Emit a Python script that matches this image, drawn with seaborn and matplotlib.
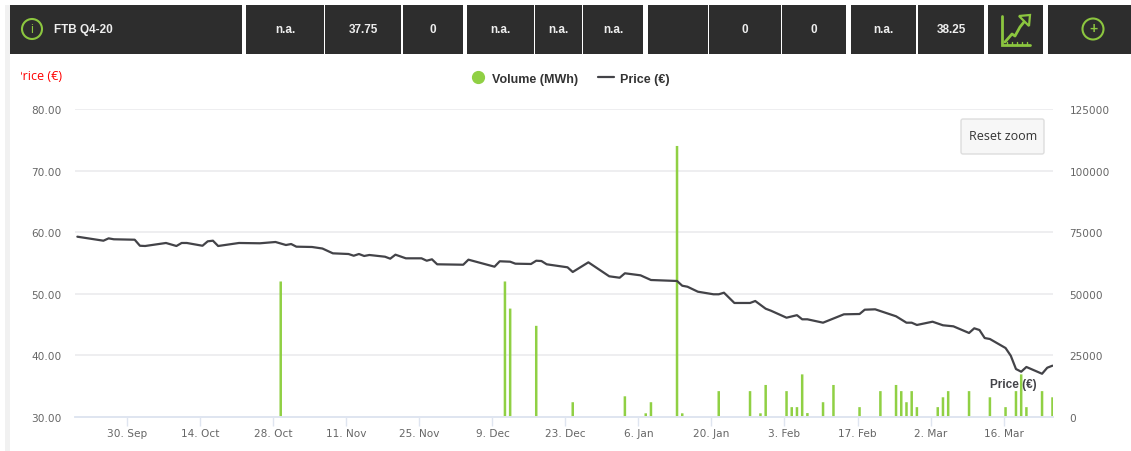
import matplotlib
matplotlib.use("Agg")
import matplotlib.dates as mdates
import matplotlib.pyplot as plt
import pandas as pd
import seaborn as sns
from matplotlib.lines import Line2D
from matplotlib.patches import Circle, FancyBboxPatch, Polygon, Rectangle

sns.set_style("white")
plt.rcParams["font.family"] = ["DejaVu Sans"]

price_dates = [
    "2019-09-20", "2019-09-25", "2019-09-26", "2019-09-27", "2019-10-01", "2019-10-02", "2019-10-03",
    "2019-10-07", "2019-10-09", "2019-10-10", "2019-10-11", "2019-10-14", "2019-10-15", "2019-10-16",
    "2019-10-17", "2019-10-21", "2019-10-25", "2019-10-28", "2019-10-30", "2019-10-31", "2019-11-01",
    "2019-11-04", "2019-11-06", "2019-11-08", "2019-11-11", "2019-11-12", "2019-11-13", "2019-11-14",
    "2019-11-15", "2019-11-18", "2019-11-19", "2019-11-20", "2019-11-22", "2019-11-25", "2019-11-26",
    "2019-11-27", "2019-11-28", "2019-12-03", "2019-12-04", "2019-12-09", "2019-12-10", "2019-12-12",
    "2019-12-13", "2019-12-16", "2019-12-17", "2019-12-18", "2019-12-19", "2019-12-23", "2019-12-24",
    "2019-12-27", "2019-12-31", "2020-01-02", "2020-01-03", "2020-01-06", "2020-01-08", "2020-01-13",
    "2020-01-14", "2020-01-15", "2020-01-17", "2020-01-20", "2020-01-21", "2020-01-22", "2020-01-24",
    "2020-01-27", "2020-01-28", "2020-01-30", "2020-01-31", "2020-02-03", "2020-02-05", "2020-02-06",
    "2020-02-07", "2020-02-10", "2020-02-14", "2020-02-17", "2020-02-18", "2020-02-20", "2020-02-24",
    "2020-02-26", "2020-02-27", "2020-02-28", "2020-03-02", "2020-03-04", "2020-03-06", "2020-03-09",
    "2020-03-10", "2020-03-11", "2020-03-12", "2020-03-13", "2020-03-16", "2020-03-17", "2020-03-18",
    "2020-03-19", "2020-03-20", "2020-03-23", "2020-03-24", "2020-03-25",
]
price_values = [
    59.27, 58.62, 59.00, 58.85, 58.78, 57.80, 57.76,
    58.25, 57.76, 58.25, 58.25, 57.80, 58.52, 58.62,
    57.76, 58.25, 58.20, 58.41, 57.92, 58.08, 57.65,
    57.60, 57.35, 56.57, 56.46, 56.18, 56.46, 56.14,
    56.30, 56.02, 55.70, 56.35, 55.76, 55.76, 55.37,
    55.60, 54.79, 54.72, 55.54, 54.40, 55.28, 55.21,
    54.89, 54.84, 55.37, 55.32, 54.79, 54.30, 53.54,
    55.11, 52.84, 52.61, 53.33, 53.00, 52.24, 52.08,
    51.31, 51.15, 50.34, 49.92, 49.92, 50.18, 48.51,
    48.51, 48.83, 47.58, 47.26, 46.12, 46.53, 45.86,
    45.86, 45.31, 46.67, 46.72, 47.42, 47.48, 46.35,
    45.31, 45.31, 44.94, 45.47, 44.89, 44.72, 43.64,
    44.40, 44.12, 42.82, 42.66, 41.20, 39.95, 37.79,
    37.35, 38.12, 37.02, 38.00, 38.33,
]

volume_dates = [
    "2019-10-29", "2019-12-11", "2019-12-12", "2019-12-17", "2019-12-24", "2020-01-03", "2020-01-07",
    "2020-01-08", "2020-01-13", "2020-01-14", "2020-01-21", "2020-01-27", "2020-01-29", "2020-01-30",
    "2020-02-03", "2020-02-04", "2020-02-05", "2020-02-06", "2020-02-07", "2020-02-10", "2020-02-12",
    "2020-02-17", "2020-02-21", "2020-02-24", "2020-02-25", "2020-02-26", "2020-02-27", "2020-02-28",
    "2020-03-03", "2020-03-04", "2020-03-05", "2020-03-09", "2020-03-13", "2020-03-16", "2020-03-18",
    "2020-03-19", "2020-03-20", "2020-03-23", "2020-03-25",
]
volume_values = [
    55000, 55000, 44000, 37000, 6000, 8400, 1500,
    6000, 110000, 1500, 10500, 10500, 1500, 13000,
    10500, 4000, 4000, 17300, 1600, 6000, 13000,
    4000, 10500, 13000, 10500, 6000, 10500, 4000,
    4000, 8000, 10500, 10500, 8000, 4000, 10500,
    17300, 4000, 10500, 8000,
]

tick_dates = ["2019-09-30", "2019-10-14", "2019-10-28", "2019-11-11", "2019-11-25", "2019-12-09", "2019-12-23",
              "2020-01-06", "2020-01-20", "2020-02-03", "2020-02-17", "2020-03-02", "2020-03-16"]
tick_labels = ["30. Sep", "14. Oct", "28. Oct", "11. Nov", "25. Nov", "9. Dec", "23. Dec",
               "6. Jan", "20. Jan", "3. Feb", "17. Feb", "2. Mar", "16. Mar"]
price_ticks = [30, 40, 50, 60, 70, 80]
volume_ticks = [0, 25000, 50000, 75000, 100000, 125000]

header_title = "FTB Q4-20"
header_cells = ["n.a.", "37.75", "0", "n.a.", "n.a.", "n.a.", "", "0", "0", "n.a.", "38.25"]

GREEN = "#8cc63f"
BAR_GREEN = "#90d044"
DARK = "#2d2d2d"
LINE = "#434348"
AXIS = "#dfe5f0"
W, H = 1131, 452


def to_num(dates):
    return mdates.date2num(pd.to_datetime(dates))


fig = plt.figure(figsize=(W / 100, H / 100), dpi=100, facecolor="white")
ax = fig.add_axes([75 / W, 1 - 418 / H, (1053 - 75) / W, (418 - 110) / H])
ax_vol = ax.twinx()
ax.set_zorder(2)
ax.patch.set_visible(False)

sns.barplot(x=to_num(volume_dates), y=volume_values, native_scale=True, width=0.48, color=BAR_GREEN,
            saturation=1, errorbar=None, ax=ax_vol, zorder=2)
for bar in ax_vol.patches:
    bar.set_snap(False)
    bar.set_linewidth(0)
sns.lineplot(x=to_num(price_dates), y=price_values, color=LINE, linewidth=1.6, errorbar=None, ax=ax)

day0 = to_num(["2019-09-30"])[0]
ax.set_xlim(day0 - 10.45, day0 + 177.1)
ax_vol.set_xlim(day0 - 10.45, day0 + 177.1)
ax.set_ylim(30, 80)
ax_vol.set_ylim(0, 125000)

# ticks sit a few hours left of the daily points in the original
ax.set_xticks(to_num(tick_dates) - 0.39, tick_labels)
ax.set_yticks(price_ticks, [f"{v:.2f}" for v in price_ticks])
ax_vol.set_yticks(volume_ticks, [str(v) for v in volume_ticks])
ax_vol.grid(axis="y", color="#ebebee", linewidth=1.2, zorder=0)
ax_vol.set_axisbelow(True)
ax.set_xlabel("")
ax_vol.set_xlabel("")
ax.tick_params(axis="x", bottom=True, length=6.5, width=1, color=AXIS, labelsize=7.6, labelcolor="#666666", pad=1.5)
ax.tick_params(axis="y", length=0, labelsize=7.6, labelcolor="#666666", pad=9.5)
ax_vol.tick_params(axis="y", length=0, labelsize=7.6, labelcolor="#666666", pad=12)
for a in (ax, ax_vol):
    for side, spine in a.spines.items():
        spine.set_visible(side == "bottom")
        spine.set_color(AXIS)
        spine.set_linewidth(1.2)

# page chrome in pixel coordinates
ui = fig.add_axes([0, 0, 1, 1], zorder=3)
ui.set_xlim(0, W)
ui.set_ylim(H, 0)
ui.axis("off")

ui.add_patch(Rectangle((5, 6), 5, H - 6, facecolor="#f1f1f1", edgecolor="none"))

cells = [(10, 242), (246, 324), (325, 401), (403, 463), (467, 534), (535, 582), (583, 643),
         (648, 708), (709, 781), (782, 846), (851, 916), (918, 984), (988, 1043), (1048, 1131)]
for x0, x1 in cells:
    ui.add_patch(Rectangle((x0, 6), x1 - x0, 48.5, facecolor=DARK, edgecolor="none"))

header_font = dict(family="Liberation Sans", weight="bold", size=8.5, color="#eeeeee", va="center")
ui.text(54, 30, header_title, **header_font)
for (x0, x1), txt in zip(cells[1:12], header_cells):
    ui.text((x0 + x1) / 2, 30, txt, ha="center", **header_font)

ui.add_patch(Circle((32, 30), 10, fill=False, edgecolor=GREEN, linewidth=1.5))
ui.text(32, 30, "i", color=GREEN, ha="center", va="center", size=9, family="Liberation Sans")
ui.add_patch(Circle((1093, 30), 10.5, fill=False, edgecolor=GREEN, linewidth=1.5))
ui.text(1093, 29.5, "+", color=GREEN, ha="center", va="center", size=10, weight="bold", family="Liberation Sans")

ui.plot([1002, 1002, 1030], [17, 46, 46], color=GREEN, linewidth=2, solid_joinstyle="miter")
ui.plot([1005, 1012, 1015, 1020, 1024], [43, 35, 37, 28, 23], color=GREEN, linewidth=2)
ui.add_patch(Polygon([[1030, 16], [1019, 17], [1029, 27]], closed=True, fill=False, edgecolor=GREEN, linewidth=1.6))
for tx in [1007, 1012, 1017, 1022, 1027]:
    ui.plot([tx, tx], [42.5, 46], color=GREEN, linewidth=1)

# the first letter is cut off by the chart container in the original
axis_title = ui.text(61.7, 77, "Price (€)", color="#ff0000", ha="right", va="center", size=9,
                     family="Open Sans", clip_on=True)
axis_title.set_clip_path(Rectangle((20.5, 60), 60, 30, transform=ui.transData))

handles = [
    Line2D([], [], linestyle="none", marker="o", markersize=8.5, color=BAR_GREEN, label="Volume (MWh)"),
    Line2D([], [], color=LINE, linewidth=1.6, label="Price (€)"),
]
fig.legend(handles=handles, loc="center", bbox_to_anchor=(570 / W, 1 - 79.5 / H), ncol=2, frameon=False,
           handlelength=1.25, handletextpad=0.5, columnspacing=1.6,
           prop={"family": "Liberation Sans", "weight": "bold", "size": 9}, labelcolor="#333333")

ui.add_patch(FancyBboxPatch((962, 121), 81, 33, boxstyle="round,pad=1,rounding_size=2",
                            facecolor="#f7f7f7", edgecolor="#dddddd", linewidth=1))
ui.text(1003, 137, "Reset zoom", ha="center", va="center", size=9, color="#333333", family="Open Sans")
ui.text(1013, 385.5, "Price (€)", ha="center", va="center", size=8.5, weight="bold", color="#434348",
        family="Liberation Sans")

plt.savefig("out.png", dpi=100)
plt.close()
